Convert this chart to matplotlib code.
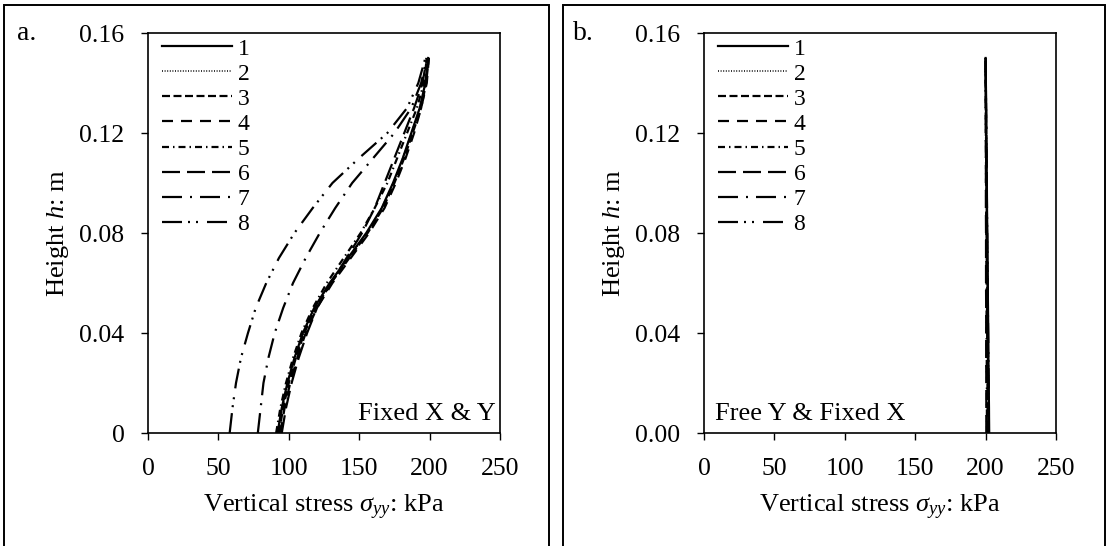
import matplotlib
matplotlib.use("Agg")
import matplotlib.pyplot as plt
from matplotlib.patches import Rectangle

plt.rcParams['font.family'] = ['Liberation Serif', 'DejaVu Serif']
plt.rcParams['mathtext.fontset'] = 'custom'
plt.rcParams['mathtext.rm'] = 'Liberation Serif'
plt.rcParams['mathtext.it'] = 'Liberation Serif:italic'
plt.rcParams['lines.scale_dashes'] = False

# heights (m) at which the stress profiles were read
heights = [0.0, 0.01, 0.02, 0.03, 0.04, 0.05, 0.06, 0.07, 0.08,
           0.09, 0.10, 0.11, 0.12, 0.13, 0.14, 0.15]

# panel a: fixed X & Y, vertical stress (kPa)
fixed_1 = [92, 95, 99, 104, 110, 118, 129, 142, 155, 166, 174, 181, 187, 193, 197, 199]
fixed_2 = [92.5, 95.5, 99.5, 104.5, 110.5, 118.5, 129.5, 142.5, 155.5, 166, 174, 181, 187, 193, 197, 199]
fixed_3 = [93, 96, 100, 105, 111, 119, 130, 143, 156, 167, 175, 182, 188, 194, 197.5, 199.5]
fixed_4 = [94, 97, 101, 106, 112, 120, 131, 144, 157, 168, 176, 183, 189, 194, 198, 199.5]
fixed_5 = [91, 94, 98, 103, 109, 117, 127, 139, 151, 161, 170, 177, 184, 191, 196, 198]
fixed_6 = [95, 98, 102, 107, 113, 120, 130, 141, 152, 161, 168, 175, 182, 189, 195, 198]
fixed_7 = [78, 80, 82, 85.5, 90, 96, 103, 112, 122, 133, 145, 160, 175, 187, 194, 198]
fixed_8 = [58, 60, 62.5, 66, 71, 76.5, 84, 93, 104, 117, 131, 150, 170, 184, 192, 197]

# panel b: free Y & fixed X, vertical stress (kPa)
free_1 = [202.5, 202.4, 202.2, 202.0, 201.9, 201.7, 201.5, 201.4, 201.2, 201.0, 200.9, 200.7, 200.5, 200.4, 200.2, 200.0]
free_2 = [202.3, 202.2, 202.0, 201.9, 201.7, 201.6, 201.4, 201.2, 201.1, 200.9, 200.8, 200.6, 200.4, 200.3, 200.1, 200.0]
free_3 = [202.0, 201.9, 201.8, 201.6, 201.5, 201.4, 201.2, 201.1, 201.0, 200.8, 200.7, 200.6, 200.4, 200.3, 200.2, 200.0]
free_4 = [201.5, 201.4, 201.3, 201.2, 201.1, 201.0, 200.9, 200.8, 200.7, 200.6, 200.5, 200.4, 200.3, 200.2, 200.1, 200.0]
free_5 = [201.0, 200.9, 200.9, 200.8, 200.7, 200.7, 200.6, 200.5, 200.5, 200.4, 200.3, 200.3, 200.2, 200.1, 200.1, 200.0]
free_6 = [200.5, 200.5, 200.5, 200.4, 200.4, 200.4, 200.3, 200.3, 200.3, 200.2, 200.2, 200.2, 200.1, 200.1, 200.1, 200.0]
free_7 = [202.2, 202.1, 201.9, 201.8, 201.6, 201.5, 201.3, 201.2, 201.0, 200.9, 200.7, 200.6, 200.4, 200.3, 200.1, 200.0]
free_8 = [202.4, 202.3, 202.1, 202.0, 201.8, 201.6, 201.5, 201.3, 201.1, 201.0, 200.8, 200.6, 200.5, 200.3, 200.2, 200.0]

labels = ['1', '2', '3', '4', '5', '6', '7', '8']
x_ticks = [0, 50, 100, 150, 200, 250]
y_ticks = [0, 0.04, 0.08, 0.12, 0.16]
y_labels_a = ['0', '0.04', '0.08', '0.12', '0.16']
y_labels_b = ['0.00', '0.04', '0.08', '0.12', '0.16']

# dash patterns in points (not scaled by line width)
px = 0.72
styles = [
    '-',
    (0, (1.0 * px, 1.6 * px)),
    (0, (8 * px, 3.5 * px)),
    (0, (11 * px, 8 * px)),
    (0, (7 * px, 4 * px, 1.5 * px, 4 * px)),
    (0, (18 * px, 7 * px)),
    (0, (20 * px, 8 * px, 2 * px, 8 * px)),
    (0, (20 * px, 6 * px, 2 * px, 6 * px, 2 * px, 9 * px)),
]
widths = [1.6, 1.1, 1.6, 1.6, 1.6, 1.6, 1.6, 1.6]

W, H = 1106, 546
fig = plt.figure(figsize=(W / 100, H / 100), dpi=100)

# panel frames
for x0, x1 in [(4, 549), (563, 1105)]:
    fig.add_artist(Rectangle((x0 / W, -0.01), (x1 - x0) / W, (H - 5) / H + 0.01,
                             transform=fig.transFigure, fill=False,
                             edgecolor='black', linewidth=1.4))


def panel(left, series, ylabels, tag, note, note_right):
    ax = fig.add_axes([left / W, (H - 433) / H, 352 / W, 400 / H])
    for vals, ls, lw, lab in zip(series, styles, widths, labels):
        ax.plot(vals, heights, color='black', linestyle=ls, linewidth=lw, label=lab)
    ax.set_xlim(0, 250)
    ax.set_ylim(0, 0.16)
    ax.set_xticks(x_ticks)
    ax.set_yticks(y_ticks)
    ax.set_yticklabels(ylabels)
    ax.tick_params(direction='out', length=5, width=1, labelsize=18.5)
    ax.tick_params(axis='y', pad=12)
    ax.tick_params(axis='x', pad=13)
    for s in ax.spines.values():
        s.set_linewidth(1.2)
    ax.set_xlabel(r'Vertical stress $\sigma_{yy}$: kPa', fontsize=19, labelpad=9)
    ax.set_ylabel(r'Height $h$: m', fontsize=19, labelpad=6)
    ax.legend(loc='upper left', bbox_to_anchor=(14 / 352, 1 - 5 / 400), frameon=False,
              fontsize=17, handlelength=2.95, handletextpad=0.25, labelspacing=0.15,
              borderaxespad=0, borderpad=0)
    if note_right:
        ax.text(0.988, 0.02, note, transform=ax.transAxes, ha='right', va='bottom', fontsize=19)
    else:
        ax.text(0.03, 0.02, note, transform=ax.transAxes, ha='left', va='bottom', fontsize=19)
    fig.text((left - 131) / W, 1 - 33 / H, tag, fontsize=20, va='center', ha='left')
    return ax


panel(148, [fixed_1, fixed_2, fixed_3, fixed_4, fixed_5, fixed_6, fixed_7, fixed_8],
      y_labels_a, 'a.', 'Fixed X & Y', True)
panel(704, [free_1, free_2, free_3, free_4, free_5, free_6, free_7, free_8],
      y_labels_b, 'b.', 'Free Y & Fixed X', False)

fig.savefig('out.png', dpi=100)
